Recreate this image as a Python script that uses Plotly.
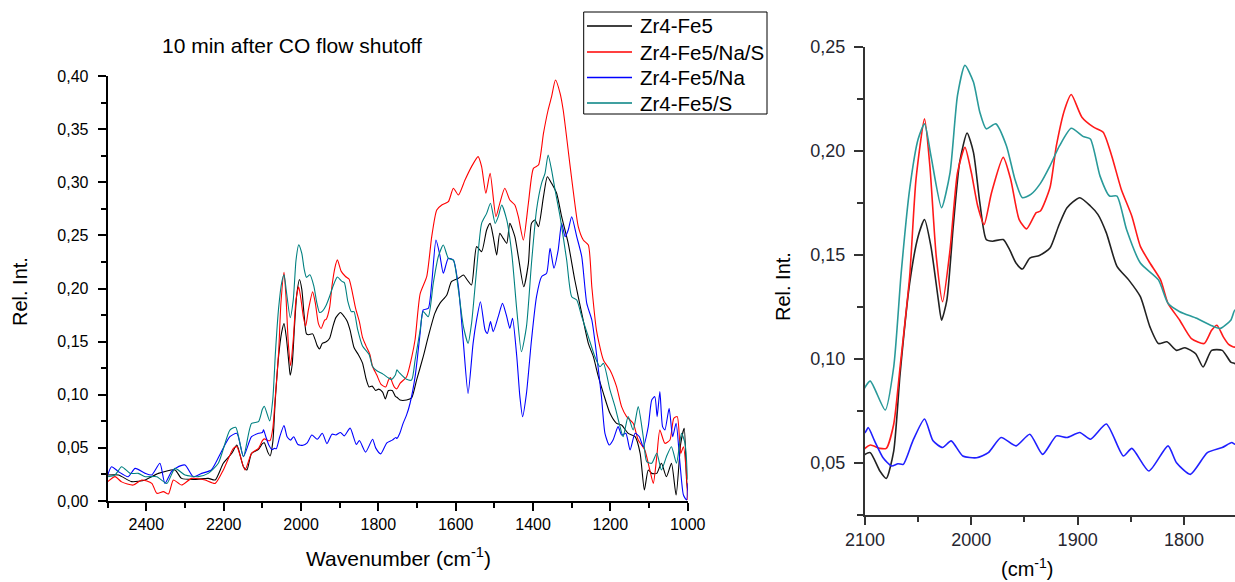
import plotly.graph_objects as go

# ---------------- data (wavenumber cm-1, relative intensity) ----------------
series_names = ["Zr4-Fe5", "Zr4-Fe5/Na/S", "Zr4-Fe5/Na", "Zr4-Fe5/S"]

zr4fe5_wn = [2500, 2472, 2438, 2403, 2369, 2326, 2309, 2274, 2240, 2222, 2201, 2179, 2166, 2149, 2140, 2128, 2110,
             2100, 2095, 2086, 2080, 2073, 2067, 2058, 2050, 2044, 2038, 2031, 2028, 2023, 2017, 2011, 2004, 1998, 1992,
             1986, 1980, 1970, 1964, 1958, 1952, 1945, 1936, 1926, 1918, 1910, 1898, 1888, 1881, 1873, 1863, 1852, 1841,
             1832, 1824, 1816, 1807, 1799, 1789, 1782, 1774, 1764, 1756, 1752,
             1744, 1727, 1714, 1701, 1684, 1671, 1654, 1641, 1623, 1611, 1593, 1580, 1570, 1559, 1546, 1533, 1520, 1511,
             1503, 1494, 1486, 1477, 1468, 1460, 1447, 1438, 1424, 1412, 1404, 1395, 1386, 1373, 1363, 1352, 1339, 1326,
             1309, 1292, 1274, 1257, 1244, 1231, 1218, 1201, 1184, 1171, 1154, 1136, 1123, 1112, 1102, 1093, 1080, 1068,
             1055, 1042, 1030, 1018, 1009, 1003, 1000]
zr4fe5_val = [0.0245, 0.0245, 0.0182, 0.0198, 0.026, 0.0292, 0.0213, 0.0204, 0.0213, 0.0198, 0.0355, 0.0449, 0.0527, 0.0323, 0.0292, 0.0449, 0.0486,
              0.054, 0.0548, 0.046, 0.0424, 0.0556, 0.0927, 0.1363, 0.1589, 0.1669, 0.154, 0.1282, 0.1185, 0.1282, 0.1637, 0.1944, 0.2085, 0.1992, 0.175,
              0.1573, 0.1565, 0.1573, 0.1524, 0.146, 0.1431, 0.1484, 0.1496, 0.1532, 0.1637, 0.1726, 0.1774, 0.1734, 0.1694, 0.1605, 0.1444, 0.1379, 0.1298,
              0.1153, 0.1073, 0.1081, 0.104, 0.1053, 0.1024, 0.096, 0.104, 0.104, 0.0984, 0.0976,
              0.095, 0.095, 0.097, 0.114, 0.1358, 0.1547, 0.1766, 0.186, 0.1939, 0.2064, 0.2096, 0.2127, 0.208, 0.2033, 0.2394, 0.2347, 0.2551, 0.2613,
              0.2488, 0.2315, 0.2519, 0.2472, 0.2425, 0.2613, 0.2488, 0.23, 0.2017, 0.2237, 0.2613, 0.2645, 0.2582, 0.2864, 0.3052, 0.299, 0.2896, 0.2676,
              0.2425, 0.208, 0.1766, 0.1484, 0.1358, 0.117, 0.1013, 0.0825, 0.0731, 0.0715, 0.0637, 0.0605, 0.0449, 0.0104, 0.0292, 0.026, 0.026, 0.0355,
              0.0229, 0.0355, 0.0056, 0.0543, 0.0684, 0.02, 0.01]

zr4fe5_na_s_wn = [2500, 2481, 2464, 2434, 2412, 2386, 2373, 2356, 2343, 2330, 2309, 2283, 2248, 2222, 2201, 2175, 2166, 2145, 2128, 2110,
                  2100, 2095, 2086, 2080, 2073, 2067, 2058, 2052, 2044, 2039, 2033, 2027, 2020, 2013, 2006, 2000, 1994, 1988, 1981,
                  1970, 1963, 1955, 1948, 1939, 1935, 1926, 1920, 1912, 1906, 1896, 1885, 1876, 1868, 1859, 1849, 1841, 1832, 1822,
                  1815, 1804, 1793, 1781, 1774, 1769, 1763, 1758, 1752,
                  1744, 1727, 1714, 1705, 1692, 1675, 1662, 1649, 1636, 1619, 1606, 1593, 1576, 1559, 1542, 1533, 1522, 1511, 1496,
                  1486, 1473, 1460, 1447, 1438, 1425, 1412, 1399, 1386, 1373, 1361, 1352, 1342, 1330, 1322, 1305, 1292, 1283, 1270,
                  1257, 1248, 1236, 1218, 1201, 1184, 1171, 1158, 1141, 1128, 1111, 1098, 1089, 1080, 1072, 1059, 1046, 1036, 1027,
                  1018, 1011, 1004, 1000]
zr4fe5_na_s_val = [0.0182, 0.0229, 0.018, 0.015, 0.0198, 0.0166, 0.0072, 0.0088, 0.0066, 0.0198, 0.015, 0.0213, 0.0198, 0.0166, 0.0292, 0.0496, 0.0511, 0.0292, 0.0449, 0.0496,
                   0.0569, 0.0585, 0.0569, 0.0569, 0.0685, 0.096, 0.1395, 0.1863, 0.2153, 0.1927, 0.1492, 0.1274, 0.1524, 0.1895, 0.2016, 0.1895, 0.1734, 0.1645, 0.1798,
                   0.1968, 0.1863, 0.1669, 0.1624, 0.1702, 0.171, 0.1823, 0.2024, 0.2202, 0.227, 0.2161, 0.2113, 0.2089, 0.1976, 0.1815, 0.1685, 0.154, 0.146, 0.1379,
                   0.1266, 0.1185, 0.1097, 0.1073, 0.1137, 0.1161, 0.1105, 0.1069, 0.1056,
                   0.1107, 0.117, 0.135, 0.152, 0.195, 0.2111, 0.2488, 0.2739, 0.2786, 0.2817, 0.2943, 0.288, 0.3021, 0.3147, 0.3241, 0.3147, 0.2896, 0.3084, 0.2676,
                   0.2802, 0.2943, 0.2833, 0.2786, 0.2676, 0.2456, 0.2802, 0.3131, 0.3162, 0.346, 0.368, 0.3806, 0.3962, 0.3837, 0.368, 0.3178, 0.2802, 0.2582, 0.2456,
                   0.2409, 0.2017, 0.1609, 0.1327, 0.1233, 0.1076, 0.0888, 0.0794, 0.0731, 0.0574, 0.048, 0.0292, 0.0166, 0.0417, 0.0668, 0.0543, 0.0574, 0.0778, 0.0794,
                   0.0449, 0.0511, 0.0292, 0.001]

zr4fe5_na_wn = [2500, 2490, 2472, 2447, 2429, 2403, 2386, 2365, 2352, 2335, 2322, 2300, 2279, 2257, 2232, 2206, 2184, 2166, 2149, 2128, 2110,
                2100, 2097, 2091, 2083, 2075, 2069, 2064, 2055, 2044, 2036, 2027, 2019, 2008, 1995, 1984, 1972, 1958, 1945, 1933, 1920,
                1910, 1898, 1888, 1873, 1857, 1849, 1833, 1815, 1807, 1794, 1778, 1764, 1755, 1752,
                1744, 1736, 1727, 1718, 1705, 1692, 1684, 1671, 1662, 1651, 1641, 1632, 1619, 1606, 1593, 1580, 1568, 1555, 1546, 1536,
                1524, 1518, 1510, 1503, 1490, 1479, 1468, 1460, 1453, 1442, 1434, 1427, 1417, 1404, 1391, 1378, 1365, 1356, 1346, 1335,
                1326, 1317, 1309, 1300, 1287, 1274, 1261, 1248, 1236, 1223, 1214, 1203, 1193, 1180, 1171, 1160, 1149, 1136, 1125, 1115,
                1102, 1093, 1085, 1079, 1072, 1065, 1059, 1048, 1039, 1030, 1020, 1011, 1003, 1000]
zr4fe5_na_val = [0.0245, 0.0323, 0.0276, 0.0229, 0.0307, 0.026, 0.0245, 0.0355, 0.0166, 0.0276, 0.0314, 0.0339, 0.0229, 0.026, 0.0292, 0.0464, 0.0605, 0.0637, 0.0417, 0.0605, 0.0637,
                 0.0645, 0.0669, 0.0605, 0.0524, 0.0484, 0.0495, 0.0492, 0.0605, 0.071, 0.0605, 0.0573, 0.0605, 0.0532, 0.0524, 0.0548, 0.0621, 0.0581, 0.0637, 0.054, 0.0629,
                 0.0621, 0.0645, 0.0613, 0.0686, 0.0532, 0.0569, 0.046, 0.0581, 0.05, 0.0444, 0.0548, 0.0573, 0.0597, 0.0589,
                 0.0643, 0.0731, 0.081, 0.092, 0.117, 0.1578, 0.1798, 0.1813, 0.2049, 0.2456, 0.2315, 0.2143, 0.2284, 0.2268, 0.2017, 0.1484, 0.1013, 0.1484, 0.1704, 0.1876,
                 0.161, 0.1578, 0.1688, 0.1594, 0.1735, 0.186, 0.1735, 0.1625, 0.1719, 0.1358, 0.0982, 0.0794, 0.1013, 0.1515, 0.1923, 0.2111, 0.2143, 0.2378, 0.219, 0.2362,
                 0.2613, 0.2488, 0.2551, 0.2676, 0.2488, 0.23, 0.186, 0.1704, 0.139, 0.0982, 0.0637, 0.0527, 0.0574, 0.07, 0.0621, 0.0637, 0.048, 0.0637, 0.0605, 0.0511,
                 0.07, 0.0951, 0.0982, 0.0794, 0.1029, 0.07, 0.0668, 0.0872, 0.0605, 0.0731, 0.0355, 0.0056, 0.001, 0.0166]

zr4fe5_s_wn = [2500, 2481, 2464, 2442, 2421, 2403, 2373, 2347, 2326, 2300, 2266, 2240, 2214, 2184, 2169, 2149, 2128, 2110,
               2100, 2095, 2081, 2073, 2066, 2058, 2050, 2044, 2038, 2028, 2020, 2013, 2006, 1998, 1992, 1986, 1977, 1967, 1959,
               1952, 1944, 1935, 1926, 1917, 1906, 1895, 1888, 1879, 1870, 1863, 1854, 1841, 1824, 1815, 1804, 1788, 1775, 1766,
               1756, 1752,
               1746, 1727, 1714, 1705, 1692, 1684, 1671, 1658, 1645, 1632, 1619, 1606, 1593, 1580, 1568, 1559, 1546, 1533, 1520,
               1510, 1498, 1490, 1481, 1468, 1455, 1442, 1430, 1417, 1404, 1391, 1378, 1369, 1361, 1352, 1343, 1330, 1313, 1300,
               1287, 1274, 1257, 1240, 1227, 1218, 1201, 1188, 1175, 1167, 1154, 1141, 1128, 1115, 1106, 1093, 1080, 1068, 1055,
               1042, 1029, 1016, 1007, 1000]
zr4fe5_s_val = [0.0229, 0.0245, 0.0323, 0.026, 0.026, 0.0229, 0.0229, 0.0166, 0.0307, 0.0245, 0.0229, 0.026, 0.0355, 0.0668, 0.0693, 0.0417, 0.073, 0.0747,
                0.0863, 0.0892, 0.0753, 0.096, 0.141, 0.1815, 0.2056, 0.2129, 0.1976, 0.1726, 0.1895, 0.2266, 0.2411, 0.233, 0.2185, 0.2105, 0.2129, 0.2024, 0.1863,
                0.1774, 0.179, 0.1843, 0.1927, 0.2024, 0.2108, 0.2069, 0.2056, 0.1879, 0.1782, 0.1782, 0.1621, 0.146, 0.1379, 0.1266, 0.1226, 0.1194, 0.1161, 0.1145,
                0.1185, 0.1234,
                0.1208, 0.1145, 0.1139, 0.1327, 0.1609, 0.1782, 0.1735, 0.2049, 0.23, 0.2409, 0.2284, 0.2268, 0.1986, 0.1641, 0.1484, 0.1672, 0.2174, 0.2613, 0.2707,
                0.2802, 0.2613, 0.2676, 0.2786, 0.2645, 0.2331, 0.1798, 0.1405, 0.1641, 0.2237, 0.2739, 0.299, 0.3084, 0.3256, 0.3115, 0.2927, 0.2676, 0.2268, 0.1923,
                0.1892, 0.1735, 0.1547, 0.1358, 0.1264, 0.1296, 0.1045, 0.0888, 0.07, 0.0605, 0.0794, 0.0668, 0.0888, 0.0605, 0.037, 0.0355, 0.0449, 0.0292, 0.0417,
                0.0511, 0.0355, 0.0637, 0.0543, 0.02]

left_colors = ["#000000", "#ff0000", "#0000ff", "#008080"]
right_colors = ["#222222", "#ff1a1a", "#2020ff", "#2a9a9a"]

all_wn = [zr4fe5_wn, zr4fe5_na_s_wn, zr4fe5_na_wn, zr4fe5_s_wn]
all_val = [zr4fe5_val, zr4fe5_na_s_val, zr4fe5_na_val, zr4fe5_s_val]

W, H = 1235, 582
def fx(p):
    return p / W
def fy(p):
    return 1 - p / H

fig = go.Figure()
for name, wn, val, c in zip(series_names, all_wn, all_val, left_colors):
    fig.add_trace(go.Scatter(x=wn, y=val, name=name, mode="lines", showlegend=False,
                             line=dict(color=c, width=1.1, shape="spline", smoothing=0.6),
                             xaxis="x", yaxis="y"))
for name, wn, val, c in zip(series_names, all_wn, all_val, right_colors):
    fig.add_trace(go.Scatter(x=wn, y=val, name=name, mode="lines", showlegend=False,
                             line=dict(color=c, width=1.6, shape="spline", smoothing=0.6),
                             xaxis="x2", yaxis="y2"))

font_family = "Liberation Sans, Arial, sans-serif"
axis_common = dict(showline=True, linewidth=2, ticks="outside", showgrid=False, zeroline=False, automargin=False)

# framed legend of the left panel
legend_box = dict(x0=583.7, x1=767, y0=12, y1=114)
legend_rows = [26, 52, 77.5, 103]
shapes = [dict(type="rect", xref="paper", yref="paper",
               x0=fx(legend_box["x0"]), x1=fx(legend_box["x1"]),
               y0=fy(legend_box["y1"]), y1=fy(legend_box["y0"]),
               line=dict(color="black", width=1), fillcolor="white", layer="above")]
annotations = []
for name, c, ry in zip(series_names, left_colors, legend_rows):
    shapes.append(dict(type="line", xref="paper", yref="paper", x0=fx(587), x1=fx(632), y0=fy(ry), y1=fy(ry),
                       line=dict(color=c, width=1.3), layer="above"))
    annotations.append(dict(text=name, x=fx(638), y=fy(ry), xref="paper", yref="paper", showarrow=False,
                            xanchor="left", yanchor="middle", font=dict(size=20.5, color="black")))

annotations += [
    dict(text="10 min after CO flow shutoff", x=fx(292), y=fy(45.5), xref="paper", yref="paper",
         showarrow=False, xanchor="center", yanchor="middle", font=dict(size=21)),
    dict(text="Rel. Int.", x=fx(20), y=fy(292), xref="paper", yref="paper", textangle=-90,
         showarrow=False, xanchor="center", yanchor="middle", font=dict(size=20)),
    dict(text="Wavenumber (cm<sup>-1</sup>)", x=fx(398), y=fy(557), xref="paper", yref="paper",
         showarrow=False, xanchor="center", yanchor="middle", font=dict(size=21)),
    dict(text="Rel. Int.", x=fx(783), y=fy(287), xref="paper", yref="paper", textangle=-90,
         showarrow=False, xanchor="center", yanchor="middle", font=dict(size=20)),
    dict(text="(cm<sup>-1</sup>)", x=fx(1027), y=fy(567), xref="paper", yref="paper",
         showarrow=False, xanchor="center", yanchor="middle", font=dict(size=20)),
]

fig.update_layout(
    width=W, height=H, margin=dict(l=0, r=0, t=0, b=0, pad=0, autoexpand=False),
    paper_bgcolor="white", plot_bgcolor="white", separators=",.",
    font=dict(family=font_family, color="black"),
    showlegend=False,
    xaxis=dict(domain=[fx(107.7), fx(687.7)], range=[2500, 1000], anchor="y",
               linecolor="black", tickcolor="black", ticklen=8, tickwidth=1.5,
               tick0=1000, dtick=200, tickfont=dict(size=16, color="black"),
               minor=dict(ticks="outside", ticklen=5, tickwidth=1.5, tickcolor="black", tick0=1000, dtick=100),
               **axis_common),
    yaxis=dict(domain=[fy(501), fy(76)], range=[0, 0.40], anchor="x",
               linecolor="black", tickcolor="black", ticklen=8, tickwidth=1.5, ticklabelstandoff=6,
               tick0=0, dtick=0.05, tickformat=".2f", tickfont=dict(size=16, color="black"),
               minor=dict(ticks="outside", ticklen=5, tickwidth=1.5, tickcolor="black", tick0=0, dtick=0.025),
               **axis_common),
    xaxis2=dict(domain=[fx(865), 1.0], range=[2100, 1752], anchor="y2",
                linecolor="#333333", tickcolor="#333333", ticklen=8, tickwidth=1.5,
                tick0=1800, dtick=100, tickfont=dict(size=18, color="#262630"),
                minor=dict(ticks="outside", ticklen=5, tickwidth=1.5, tickcolor="#333333", tick0=1800, dtick=50),
                **axis_common),
    yaxis2=dict(domain=[fy(514.7), fy(46.7)], range=[0.025, 0.25], anchor="x2",
                linecolor="#333333", tickcolor="#333333", ticklen=9, tickwidth=1.5, ticklabelstandoff=5,
                tick0=0.05, dtick=0.05, tickformat=".2f", tickfont=dict(size=18, color="#262630"),
                minor=dict(ticks="outside", ticklen=6, tickwidth=1.5, tickcolor="#333333", tick0=0.025, dtick=0.025),
                **axis_common),
    shapes=shapes,
    annotations=annotations,
)

fig.write_html("out.html")
